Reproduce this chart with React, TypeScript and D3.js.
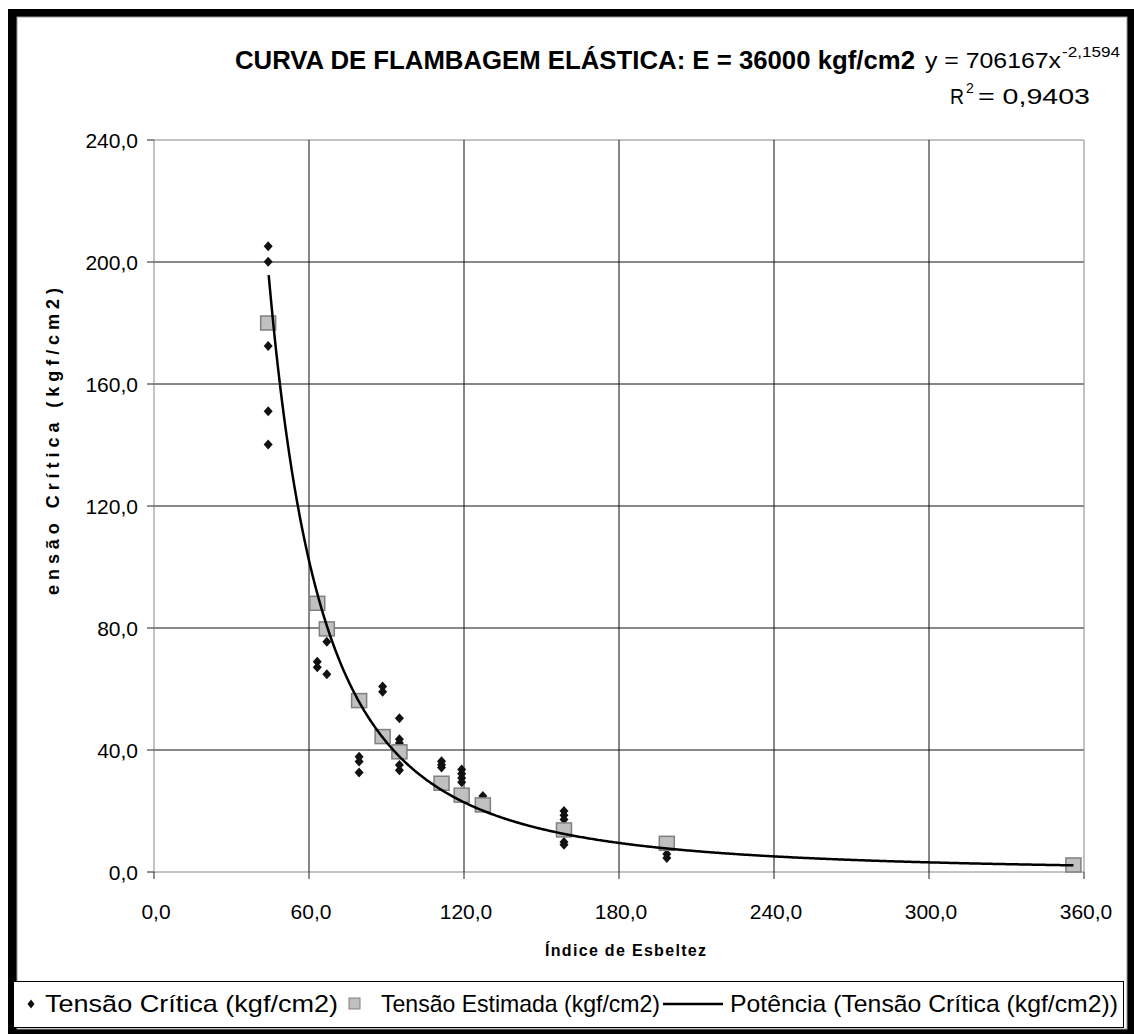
import * as d3 from "d3";

// Índice de esbeltez (x) for the estimated series
const estimadaX = [44.2, 63.2, 66.9, 79.4, 88.5, 95.0, 111.3, 119.1, 127.3, 158.7, 198.5, 355.9];
const estimadaY = [180.0, 88.1, 79.7, 56.2, 44.4, 39.4, 29.1, 25.2, 22.0, 13.8, 9.4, 2.3];

// measured critical stress
const criticaX = [
  44.2, 44.2, 44.2, 44.2, 44.2, 63.2, 63.2, 66.9, 66.9, 79.4, 79.4, 79.4, 88.5, 88.5,
  95.0, 95.0, 95.0, 95.0, 95.0, 111.3, 111.3, 111.3, 119.1, 119.1, 119.1, 119.1, 127.3,
  158.7, 158.7, 158.7, 158.7, 158.7, 198.5, 198.5,
];
const criticaY = [
  205.2, 200.1, 172.5, 151.1, 140.2, 68.9, 67.1, 75.5, 64.8, 37.8, 36.2, 32.6, 60.8, 59.1,
  50.4, 43.5, 42.3, 35.1, 33.4, 36.3, 35.2, 34.3, 33.6, 32.2, 30.8, 29.4, 24.9,
  20.0, 18.6, 17.2, 9.8, 8.9, 5.9, 4.6,
];

// power trendline shown on the chart: y = 706167 x^-2,1594
const trendA = 706167;
const trendB = -2.1594;
const trendFrom = 44.4;
const trendTo = 355.9;

const xTicks = [0, 60, 120, 180, 240, 300, 360];
const yTicks = [0, 40, 80, 120, 160, 200, 240];

const FONT = "'Liberation Sans', Arial, sans-serif";
const W = 1134;
const H = 1034;
const plot = { left: 154, right: 1084, top: 140, bottom: 872 };

const ptBR = d3.formatLocale({ decimal: ",", thousands: ".", grouping: [3], currency: ["R$", ""] });
const fmt = ptBR.format(".1f");

export default function App() {
  const x = d3.scaleLinear().domain([0, 360]).range([plot.left, plot.right]);
  const y = d3.scaleLinear().domain([0, 240]).range([plot.bottom, plot.top]);

  const trendPts = d3.range(trendFrom, trendTo, 0.5).concat([trendTo]).map((v) => [v, trendA * Math.pow(v, trendB)]);
  const trendLine = d3.line<number[]>().x((d) => x(d[0])).y((d) => y(d[1]));

  const diamond = (cx: number, cy: number, rx = 4.5, ry = 5) =>
    `M${cx},${cy - ry}L${cx + rx},${cy}L${cx},${cy + ry}L${cx - rx},${cy}Z`;

  const squeeze = "spacingAndGlyphs";

  return (
    <svg width={W} height={H} style={{ position: "absolute", left: 0, top: 0, display: "block" }}>
      {/* frame */}
      <rect x={8} y={9} width={W - 8} height={H - 9} fill="#000" />
      <rect x={17} y={17} width={1110} height={1012} fill="#fff" stroke="#999" strokeWidth={1} />

      {/* title */}
      <text x={235} y={69} fontFamily={FONT} fontWeight="bold" fontSize={26} textLength={680} lengthAdjust={squeeze}>
        CURVA DE FLAMBAGEM ELÁSTICA: E = 36000 kgf/cm2
      </text>
      <text x={925} y={68} fontFamily={FONT} fontSize={22} textLength={136} lengthAdjust={squeeze}>
        y = 706167x
      </text>
      <text x={1062} y={57} fontFamily={FONT} fontSize={14} textLength={58} lengthAdjust={squeeze}>
        -2,1594
      </text>
      <text x={950} y={104} fontFamily={FONT} fontSize={22} textLength={14} lengthAdjust={squeeze}>
        R
      </text>
      <text x={966} y={93} fontFamily={FONT} fontSize={14}>
        2
      </text>
      <text x={978} y={104} fontFamily={FONT} fontSize={22} textLength={112} lengthAdjust={squeeze}>
        = 0,9403
      </text>

      {/* grid */}
      {yTicks.map((t) => (
        <line key={"gy" + t} x1={plot.left} x2={plot.right} y1={y(t)} y2={y(t)} stroke={t === 0 || t === 240 ? "#888" : "#111"} strokeWidth={1} />
      ))}
      {xTicks.map((t) => (
        <line key={"gx" + t} x1={x(t)} x2={x(t)} y1={plot.top} y2={plot.bottom} stroke={t === 0 || t === 360 ? "#888" : "#111"} strokeWidth={1} />
      ))}

      {/* axes ticks + labels */}
      {yTicks.map((t) => (
        <g key={"ty" + t}>
          <line x1={plot.left - 7} x2={plot.left} y1={y(t)} y2={y(t)} stroke="#222" />
          <text x={138} y={y(t) + 8} textAnchor="end" fontFamily={FONT} fontSize={21}>
            {fmt(t)}
          </text>
        </g>
      ))}
      {xTicks.map((t) => (
        <g key={"tx" + t}>
          <line x1={x(t)} x2={x(t)} y1={plot.bottom} y2={plot.bottom + 7} stroke="#222" />
          <text x={x(t) + 2} y={plot.bottom + 47} textAnchor="middle" fontFamily={FONT} fontSize={21}>
            {fmt(t)}
          </text>
        </g>
      ))}

      <text x={545} y={956} fontFamily={FONT} fontWeight="bold" fontSize={16} textLength={161}>
        Índice de Esbeltez
      </text>
      <text
        transform={`translate(59,595) rotate(-90)`}
        fontFamily={FONT}
        fontWeight="bold"
        fontSize={18}
        textLength={307}
      >
        ensão Crítica (kgf/cm2)
      </text>

      {/* series */}
      {criticaX.map((v, i) => (
        <path key={"c" + i} d={diamond(x(v), y(criticaY[i]))} fill="#111" />
      ))}
      {estimadaX.map((v, i) => (
        <rect key={"e" + i} x={x(v) - 7.5} y={y(estimadaY[i]) - 7} width={15} height={14} fill="#c0c0c0" stroke="#808080" strokeWidth={1.5} />
      ))}
      <path d={trendLine(trendPts) || ""} fill="none" stroke="#000" strokeWidth={2.5} />

      {/* legend */}
      <rect x={13.5} y={981.5} width={1110} height={46} fill="#fff" stroke="#000" strokeWidth={1} />
      <path d={diamond(31, 1004, 3.5, 4.5)} fill="#111" />
      <text x={45} y={1012} fontFamily={FONT} fontSize={24} textLength={293} lengthAdjust={squeeze}>
        Tensão Crítica (kgf/cm2)
      </text>
      <rect x={349} y={998} width={11} height={11} fill="#c0c0c0" stroke="#808080" strokeWidth={1} />
      <text x={381} y={1012} fontFamily={FONT} fontSize={24} textLength={279} lengthAdjust={squeeze}>
        Tensão Estimada (kgf/cm2)
      </text>
      <line x1={663} x2={723} y1={1004} y2={1004} stroke="#000" strokeWidth={2.5} />
      <text x={730} y={1012} fontFamily={FONT} fontSize={24} textLength={388} lengthAdjust={squeeze}>
        Potência (Tensão Crítica (kgf/cm2))
      </text>
    </svg>
  );
}
